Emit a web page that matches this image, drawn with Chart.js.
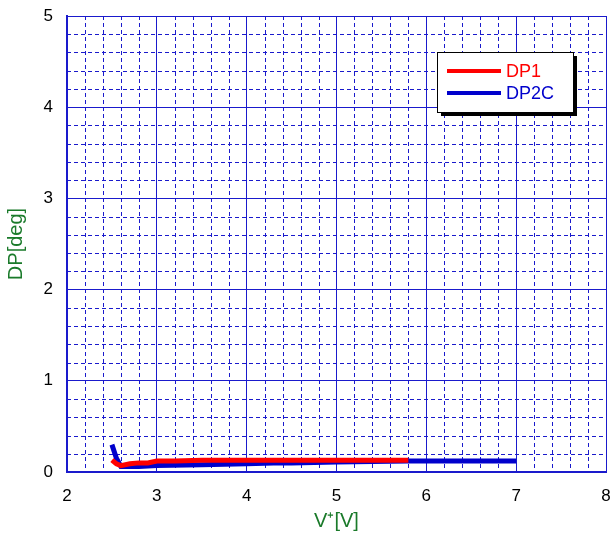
<!DOCTYPE html>
<html><head><meta charset="utf-8">
<script src="https://cdn.jsdelivr.net/npm/chart.js@4"></script>
<style>html,body{margin:0;padding:0;background:#fff}#wrap{width:611px;height:535px}</style>
</head><body><div id="wrap"><canvas id="c" width="611" height="535"></canvas></div>
<script>
const seriesNames = ["DP1", "DP2C"];
const dp1V = [2.5, 2.55, 2.6, 2.7, 2.8, 2.9, 3.0, 3.2, 3.5, 4.0, 4.5, 5.0, 5.5, 5.8];
const dp1Deg = [0.13, 0.09, 0.07, 0.09, 0.10, 0.10, 0.12, 0.12, 0.13, 0.13, 0.13, 0.13, 0.13, 0.13];
const dp2cV = [2.5, 2.55, 2.6, 2.8, 3.0, 3.5, 4.0, 4.3, 4.5, 5.0, 5.8, 6.5, 7.0];
const dp2cDeg = [0.30, 0.15, 0.06, 0.06, 0.07, 0.08, 0.09, 0.10, 0.10, 0.11, 0.12, 0.12, 0.12];
const xTicks = [2, 3, 4, 5, 6, 7, 8];
const yTicks = [0, 1, 2, 3, 4, 5];

const FONT = "'Liberation Sans', Arial, sans-serif";
const GRID = '#1a1acc';
const GREEN = '#1a7a2a';

const minorGrid = {
  id: 'minorGrid',
  beforeDatasetsDraw(chart) {
    const {ctx, chartArea: a, scales: {x, y}} = chart;
    ctx.save();
    ctx.strokeStyle = GRID;
    ctx.lineWidth = 1;
    ctx.setLineDash([4, 3]);
    for (let i = 0; i <= 30; i++) {
      if (i % 5 === 0) continue;
      const v = 2 + i * 0.2;
      const px = Math.round(x.getPixelForValue(v)) + 0.5;
      ctx.beginPath(); ctx.moveTo(px, a.top); ctx.lineTo(px, a.bottom); ctx.stroke();
    }
    for (let i = 0; i <= 25; i++) {
      if (i % 5 === 0) continue;
      const v = i * 0.2;
      const py = Math.round(y.getPixelForValue(v)) + 0.5;
      ctx.beginPath(); ctx.moveTo(a.left, py); ctx.lineTo(a.right, py); ctx.stroke();
    }
    ctx.restore();
  }
};

const boxLegend = {
  id: 'boxLegend',
  afterDatasetsDraw(chart) {
    const ctx = chart.ctx;
    const bx = 437, by = 52, bw = 136, bh = 60;
    ctx.save();
    ctx.fillStyle = '#000';
    ctx.fillRect(bx + 4, by + 4, bw, bh);
    ctx.fillStyle = '#fff';
    ctx.fillRect(bx, by, bw, bh);
    ctx.strokeStyle = '#000';
    ctx.lineWidth = 1;
    ctx.strokeRect(bx + 0.5, by + 0.5, bw, bh);
    ctx.font = '18px ' + FONT;
    ctx.textBaseline = 'middle';
    chart.data.datasets.forEach((ds, i) => {
      const ly = by + 19 + i * 22;
      ctx.strokeStyle = ds.borderColor;
      ctx.lineWidth = 4;
      ctx.beginPath(); ctx.moveTo(447, ly); ctx.lineTo(501, ly); ctx.stroke();
      ctx.fillStyle = ds.borderColor;
      ctx.fillText(ds.label, 506, ly + 1);
    });
    ctx.restore();
  }
};

new Chart(document.getElementById('c'), {
  type: 'line',
  data: {
    datasets: [
      {label: seriesNames[0], data: dp1V.map((v, i) => ({x: v, y: dp1Deg[i]})), borderColor: '#ff0000', borderWidth: 5, pointRadius: 0, tension: 0, fill: false},
      {label: seriesNames[1], data: dp2cV.map((v, i) => ({x: v, y: dp2cDeg[i]})), borderColor: '#0000cc', borderWidth: 5, pointRadius: 0, tension: 0, fill: false}
    ]
  },
  options: {
    responsive: false,
    animation: false,
    layout: {padding: {top: 16, right: 5, left: 0, bottom: 0}},
    plugins: {legend: {display: false}, tooltip: {enabled: false}},
    scales: {
      x: {
        type: 'linear', min: 2, max: 8,
        afterBuildTicks: s => { s.ticks = xTicks.map(v => ({value: v})); },
        afterFit: s => { s.height = 63; s.paddingLeft = 0; s.paddingRight = 0; },
        ticks: {color: '#000', font: {family: FONT, size: 17}, padding: 14, maxRotation: 0},
        grid: {color: GRID, lineWidth: 1, drawTicks: false},
        border: {color: GRID, width: 2},
        title: {display: true, text: 'V\u207A[V]', color: GREEN, font: {family: FONT, size: 20}, padding: {top: 2, bottom: 2}}
      },
      y: {
        type: 'linear', min: 0, max: 5,
        afterBuildTicks: s => { s.ticks = yTicks.map(v => ({value: v})); },
        afterFit: s => { s.width = 67; s.paddingTop = 0; s.paddingBottom = 0; },
        ticks: {color: '#000', font: {family: FONT, size: 17}, padding: 14},
        grid: {color: GRID, lineWidth: 1, drawTicks: false},
        border: {color: GRID, width: 2},
        title: {display: true, text: 'DP[deg]', color: GREEN, font: {family: FONT, size: 20}, padding: {top: 4, bottom: 4}}
      }
    }
  },
  plugins: [minorGrid, boxLegend]
});
</script>
</body></html>
